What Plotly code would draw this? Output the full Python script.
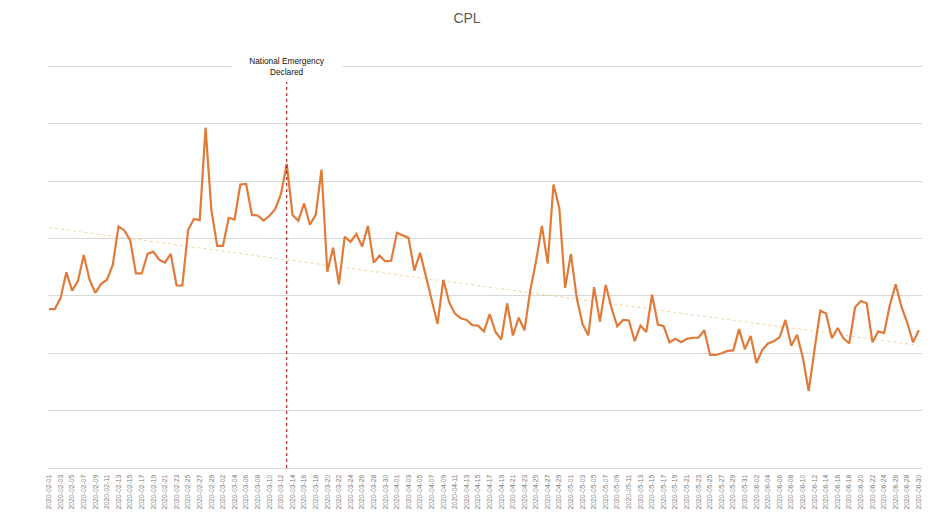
import numpy as np
import pandas as pd
import plotly.graph_objects as go

dates = pd.date_range("2020-02-01", "2020-06-30", freq="D").strftime("%Y-%m-%d").tolist()

cpl = [
    27.7, 27.7, 29.6, 34.1, 30.9, 32.6, 37.1, 32.8, 30.5, 32.1,
    32.8, 35.4, 42.1, 41.4, 39.7, 33.9, 33.9, 37.3, 37.7, 36.3,
    35.8, 37.3, 31.8, 31.8, 41.5, 43.4, 43.2, 59.3, 45.0, 38.7,
    38.7, 43.6, 43.3, 49.4, 49.5, 44.1, 44.0, 43.1, 43.9, 45.1,
    47.7, 53.0, 44.1, 43.1, 46.1, 42.4, 44.1, 52.0, 34.2, 38.4,
    32.0, 40.3, 39.4, 40.8, 38.6, 42.2, 35.8, 37.0, 36.0, 36.1,
    41.0, 40.6, 40.1, 34.4, 37.5, 33.4, 29.0, 25.1, 32.8, 28.9,
    26.9, 26.1, 25.8, 24.9, 24.8, 23.8, 26.8, 23.7, 22.4, 28.7,
    23.1, 26.2, 24.0, 31.0, 36.1, 42.2, 35.6, 49.4, 45.3, 31.4,
    37.3, 29.7, 25.1, 23.1, 31.5, 25.5, 31.9, 27.9, 24.7, 25.8,
    25.7, 22.1, 24.8, 23.7, 30.2, 25.0, 24.7, 21.9, 22.5, 21.9,
    22.5, 22.7, 22.7, 24.0, 19.7, 19.7, 20.0, 20.4, 20.5, 24.2,
    20.7, 23.0, 18.3, 20.6, 21.7, 22.1, 22.8, 25.8, 21.3, 23.2,
    19.2, 13.4, 20.6, 27.4, 26.9, 22.6, 24.4, 22.6, 21.7, 28.0,
    29.1, 28.7, 21.9, 23.8, 23.5, 28.4, 32.0, 28.1, 25.3, 21.9,
    24.0,
]

event_date = "2020-03-13"
event_label = "National Emergency<br>Declared"
title_text = "CPL"

# linear trendline (least squares, like Excel's trendline)
idx = np.arange(len(cpl))
slope, intercept = np.polyfit(idx, np.array(cpl), 1)
trend = (slope * idx + intercept).tolist()

fig = go.Figure()
fig.add_trace(go.Scatter(
    x=dates, y=trend, mode="lines",
    line=dict(color="rgba(238,205,140,0.8)", width=1, dash="dot"),
    hoverinfo="skip", showlegend=False,
))
fig.add_trace(go.Scatter(
    x=dates, y=cpl, mode="lines",
    line=dict(color="#E07B39", width=2.2),
    showlegend=False, name="CPL",
))

fig.add_shape(
    type="line", xref="x", yref="paper",
    x0=event_date, x1=event_date, y0=0, y1=0.955,
    line=dict(color="#A00000", width=1, dash="dot"),
)
fig.add_annotation(
    x=event_date, xref="x", y=70, yref="y",
    text=event_label, showarrow=False,
    font=dict(family="Liberation Sans", size=8.3, color="#111111"),
    bgcolor="white", width=108, align="center",
    xanchor="center", yanchor="middle", yshift=0,
)

fig.update_layout(
    width=934, height=512,
    margin=dict(l=48, r=12, t=63.7, b=43.5),
    paper_bgcolor="white", plot_bgcolor="white",
    title=dict(text=title_text, x=0.5, xanchor="center", y=0.965, yanchor="middle",
               font=dict(family="Liberation Sans", size=14, color="#595959")),
    font=dict(family="Liberation Sans", color="#595959"),
)
fig.update_xaxes(
    type="date", automargin=False,
    range=["2020-01-31 20:00", "2020-06-30 13:00"],
    tick0="2020-02-01", dtick=2 * 86400000, tickformat="%Y-%m-%d",
    tickangle=-90, tickfont=dict(size=6.8, color="#808080"),
    ticklabelstandoff=3,
    showgrid=False, showline=True, linecolor="#d9d9d9", linewidth=1,
    ticks="", zeroline=False,
)
fig.update_yaxes(
    range=[0, 70.4], dtick=10, showticklabels=False, automargin=False,
    showgrid=True, gridcolor="#d9d9d9", gridwidth=1,
    zeroline=False, showline=False, ticks="",
)

fig.write_html("out.html")
